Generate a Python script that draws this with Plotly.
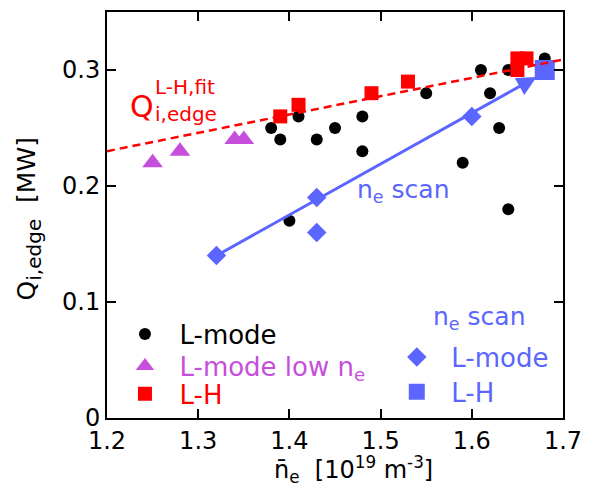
import plotly.graph_objects as go

# L-mode (black circles)
lmode_x = [1.38, 1.39, 1.41, 1.43, 1.45, 1.48, 1.48, 1.40, 1.55, 1.61, 1.62, 1.63, 1.59, 1.64, 1.64, 1.68]
lmode_y = [0.25, 0.24, 0.26, 0.24, 0.25, 0.26, 0.23, 0.17, 0.28, 0.30, 0.28, 0.25, 0.22, 0.18, 0.30, 0.31]

# L-mode low n_e (magenta triangles)
low_x = [1.25, 1.28, 1.34, 1.35]
low_y = [0.22, 0.23, 0.24, 0.24]

# L-H (red squares)
lh_x = [1.39, 1.41, 1.49, 1.53, 1.65, 1.65, 1.66]
lh_y = [0.26, 0.27, 0.28, 0.29, 0.30, 0.31, 0.31]

# n_e scan L-mode (blue diamonds)
scan_l_x = [1.32, 1.43, 1.43, 1.60]
scan_l_y = [0.14, 0.19, 0.16, 0.26]

# n_e scan L-H (blue square)
scan_lh_x = [1.68]
scan_lh_y = [0.30]

# L-H fit line
fit_x = [1.2, 1.7]
fit_y = [0.23, 0.309]

# scan arrow (start, end)
arrow_x = [1.32, 1.671]
arrow_y = [0.14, 0.294]

BLACK = "#000000"
MAG = "#c54fdc"
RED = "#ff0000"
BLUE = "#5a66ff"
FONT = "DejaVu Sans"
LFS = 26

fig = go.Figure()

fig.add_trace(go.Scatter(x=lmode_x, y=lmode_y, mode="markers",
                         marker=dict(symbol="circle", size=12, color=BLACK),
                         name='<span style="color:#000000">L-mode</span>', legend="legend"))
fig.add_trace(go.Scatter(x=low_x, y=low_y, mode="markers",
                         marker=dict(symbol="triangle-up", size=18, color=MAG),
                         name='<span style="color:%s">L-mode low n<sub>e</sub></span>' % MAG, legend="legend3"))
fig.add_trace(go.Scatter(x=lh_x, y=lh_y, mode="markers",
                         marker=dict(symbol="square", size=14, color=RED),
                         name='<span style="color:%s">L-H</span>' % RED, legend="legend4"))
fig.add_trace(go.Scatter(x=scan_l_x, y=scan_l_y, mode="markers",
                         marker=dict(symbol="diamond", size=15, color=BLUE),
                         name='<span style="color:%s">L-mode</span>' % BLUE, legend="legend2"))
fig.add_trace(go.Scatter(x=scan_lh_x, y=scan_lh_y, mode="markers",
                         marker=dict(symbol="square", size=20, color=BLUE),
                         name='<span style="color:%s">L-H</span>' % BLUE, legend="legend5"))
fig.add_trace(go.Scatter(x=fit_x, y=fit_y, mode="lines",
                         line=dict(color=RED, width=2.5, dash="8px,5px"),
                         showlegend=False, hoverinfo="skip"))

axis_common = dict(showline=True, linecolor="black", linewidth=2, mirror="ticks",
                   ticks="inside", ticklen=9, tickwidth=2, tickcolor="black",
                   showgrid=False, zeroline=False,
                   tickfont=dict(family=FONT, size=24, color="black"))


def leg(x, y):
    return dict(x=x, y=y, xanchor="left", yanchor="top",
                bgcolor="rgba(0,0,0,0)", borderwidth=0,
                font=dict(family=FONT, size=LFS), itemwidth=59, tracegroupgap=0)


fig.update_layout(
    width=592, height=497,
    margin=dict(l=107, r=27, t=10, b=79),
    plot_bgcolor="white", paper_bgcolor="white",
    font=dict(family=FONT, size=24, color="black"),
    xaxis=dict(range=[1.2, 1.7], tickvals=[1.2, 1.3, 1.4, 1.5, 1.6, 1.7],
               ticktext=["1.2", "1.3", "1.4", "1.5", "1.6", "1.7"], **axis_common),
    yaxis=dict(range=[0, 0.35], tickvals=[0, 0.1, 0.2, 0.3],
               ticktext=["0", "0.1", "0.2", "0.3"], **axis_common),
    legend=leg(0.0076, 0.2647),
    legend3=leg(0.0076, 0.186),
    legend4=leg(0.0076, 0.1176),
    legend2=leg(0.6037, 0.208),
    legend5=leg(0.6037, 0.1225),
    showlegend=True,
)

ann = []
# scan arrow
ann.append(dict(x=arrow_x[1], y=arrow_y[1], ax=arrow_x[0], ay=arrow_y[0],
                xref="x", yref="y", axref="x", ayref="y", text="", showarrow=True,
                arrowhead=2, arrowsize=1.3, arrowwidth=3, arrowcolor=BLUE, standoff=0))
# fit label
ann.append(dict(x=1.2382, y=0.2685, xref="x", yref="y", text="Q", showarrow=False,
                font=dict(family=FONT, size=30, color=RED), xanchor="center", yanchor="middle"))
ann.append(dict(x=1.2502, y=0.2856, xref="x", yref="y", text="L-H,fit", showarrow=False,
                font=dict(family=FONT, size=20, color=RED), xanchor="left", yanchor="middle"))
ann.append(dict(x=1.2502, y=0.2625, xref="x", yref="y", text="i,edge", showarrow=False,
                font=dict(family=FONT, size=20, color=RED), xanchor="left", yanchor="middle"))
# mid text
ann.append(dict(x=1.5253, y=0.1956, xref="x", yref="y", text="n<sub>e</sub> scan", showarrow=False,
                font=dict(family=FONT, size=25, color=BLUE), xanchor="center", yanchor="middle"))
# legend 2 title
ann.append(dict(x=(481 - 107) / 458, y=(418 - 318) / 408, xref="paper", yref="paper",
                text="n<sub>e</sub> scan", showarrow=False,
                font=dict(family=FONT, size=25, color=BLUE), xanchor="center", yanchor="middle"))
# axis titles
ann.append(dict(x=-0.1725, y=0.49, xref="paper", yref="paper",
                text="Q<sub><span style='font-size:20px'>i,edge</span></sub>\u00a0\u00a0[MW]",
                textangle=-90, showarrow=False,
                font=dict(family=FONT, size=25, color="black"), xanchor="center", yanchor="middle"))
ann.append(dict(x=0.5415, y=-0.127, xref="paper", yref="paper",
                text="n\u0304<sub>e</sub>\u00a0\u00a0[10<sup>19</sup> m<sup>-3</sup>]", showarrow=False,
                font=dict(family=FONT, size=24, color="black"), xanchor="center", yanchor="middle"))
fig.update_layout(annotations=ann)

fig.write_html("out.html")
